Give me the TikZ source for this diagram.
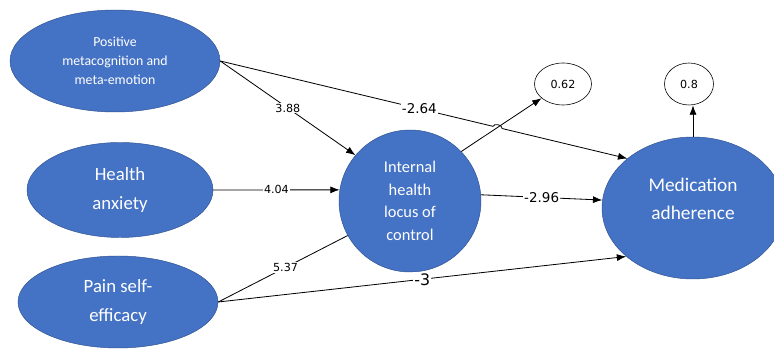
\documentclass[tikz,border=0pt]{standalone}
\usepackage{fontspec}
\setmainfont{Carlito}
\newfontfamily\numfont{DejaVu Sans}
\usetikzlibrary{shapes.geometric,arrows.meta,calc,intersections}
\definecolor{nodeblue}{HTML}{4472C4}
\definecolor{nodeline}{HTML}{2F528F}

\begin{document}
\begin{tikzpicture}[x=0.03cm,y=-0.03cm]
		\tikzset{latent/.style = {shape=ellipse,draw=nodeline,fill=nodeblue,text=white,align=center,inner sep=0pt}}
		\tikzset{resid/.style = {shape=ellipse,draw,line width=0.5pt,inner sep=0pt,minimum height=1.26cm,font=\numfont\fontsize{9.5}{11}\selectfont}}
		\tikzset{edge/.style = {->,> = {Latex[length=8pt,width=6pt]},line width=0.7pt}}
		\tikzset{coef/.style = {fill=white,inner sep=1pt,font=\numfont\fontsize{9.5}{11}\selectfont}}
		\useasboundingbox (0,0) rectangle (774,349);
		\node[latent,minimum width=6.3cm,minimum height=3.06cm,font=\fontsize{11.8}{16}\selectfont] (pos) at (115,61) {Positive\\metacognition and\\meta-emotion};
		\node[latent,minimum width=5.58cm,minimum height=2.85cm,font=\fontsize{16}{24}\selectfont] (anx) at (120,190) {Health\\anxiety};
		\node[latent,minimum width=6cm,minimum height=2.76cm,font=\fontsize{16}{24}\selectfont] (pain) at (118,302) {Pain self-\\efficacy};
		\node[latent,shape=circle,minimum size=4.26cm,font=\fontsize{14}{19.3}\selectfont] (ihl) at (410,201) {Internal\\health\\locus of\\control};
		\node[latent,minimum width=5.46cm,minimum height=4.26cm] (med) at (693,208) {};
		\node[text=white,align=center,font=\fontsize{16.5}{24}\selectfont] (medtxt) at (693,199) {Medication\\adherence};
		\node[resid,minimum width=1.71cm] (ra) at (563,84) {0.62};
		\node[resid,minimum width=1.47cm] (rb) at (689,84) {0.8};
		% paths into the mediator
		\path (pos.east) edge[edge] node[coef] {3.88} (ihl.140);
		\path (anx.east) edge[edge] node[coef] {4.04} (ihl.171);
		\path (pain.east) edge[draw,line width=0.7pt] node[coef,pos=0.52] {5.37} (ihl.209);
		% line jump over the R2 arrow
		\path[name path=p264] (pos.east) -- (med.143);
		\path[name path=p62] (ihl.44) -- (ra);
		\path[name intersections={of=p264 and p62,by=hop}];
		\draw[edge] (pos.east) -- node[coef,pos=0.73,font=\numfont\fontsize{11.5}{13}\selectfont] {-2.64} ($(hop)!4pt!(pos.east)$) to[bend left=90] ($(hop)!4pt!(med.143)$) -- (med.143);
		\path (ihl.44) edge[edge] (ra);
		\path (ihl.5) edge[edge] node[coef,font=\numfont\fontsize{11.5}{13}\selectfont] {-2.96} (med.175);
		\path (pain.east) edge[edge] node[coef,font=\numfont\fontsize{13.5}{15}\selectfont] {-3} (med.216);
		\path (med.north) edge[edge] (med.north |- rb.south);
	\end{tikzpicture}
\end{document}
